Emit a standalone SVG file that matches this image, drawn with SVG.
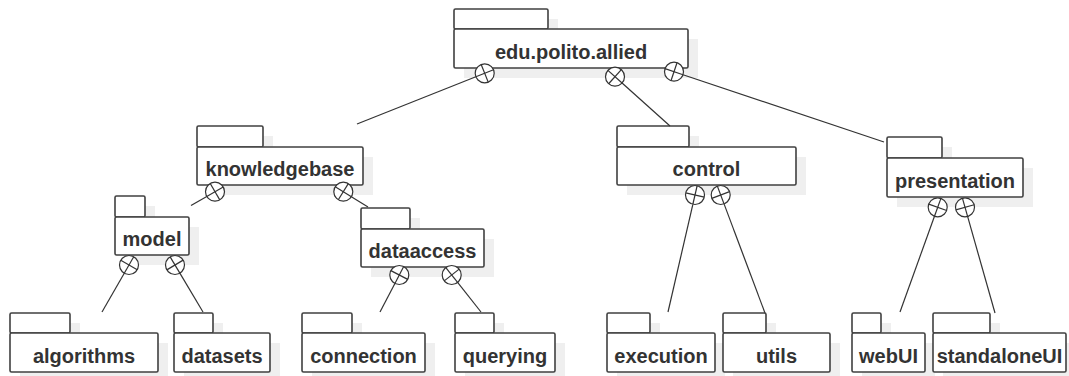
<svg xmlns="http://www.w3.org/2000/svg" width="1069" height="376" viewBox="0 0 1069 376">
<style>
.sh{fill:#efefef;stroke:none}
.tab,.body{fill:#fff;stroke:#404040;stroke-width:1.6}
.lbl{font-family:"Liberation Sans",Arial,sans-serif;font-weight:bold;font-size:20px;fill:#333;text-anchor:middle}
.con line{stroke:#333;stroke-width:1.2}
.con circle{fill:#fff;stroke:#333;stroke-width:1.2}
</style>
<rect width="1069" height="376" fill="#fff"/>
<g id="shadows">
<rect class="sh" x="464" y="19" width="94" height="20"/><rect class="sh" x="464" y="39" width="234" height="39"/>
<rect class="sh" x="207" y="136" width="66" height="21"/><rect class="sh" x="207" y="157" width="166" height="38"/>
<rect class="sh" x="627" y="136" width="72" height="21"/><rect class="sh" x="627" y="157" width="179" height="38"/>
<rect class="sh" x="897" y="147" width="55" height="21"/><rect class="sh" x="897" y="168" width="136" height="39"/>
<rect class="sh" x="125" y="206" width="30" height="21"/><rect class="sh" x="125" y="227" width="74" height="38"/>
<rect class="sh" x="371" y="218" width="49" height="21"/><rect class="sh" x="371" y="239" width="123" height="38"/>
<rect class="sh" x="20" y="323" width="60" height="20"/><rect class="sh" x="20" y="343" width="148" height="39"/>
<rect class="sh" x="184" y="323" width="39" height="20"/><rect class="sh" x="184" y="343" width="96" height="39"/>
<rect class="sh" x="312" y="323" width="50" height="20"/><rect class="sh" x="312" y="343" width="123" height="39"/>
<rect class="sh" x="465" y="323" width="39" height="20"/><rect class="sh" x="465" y="343" width="100" height="39"/>
<rect class="sh" x="617" y="323" width="43" height="20"/><rect class="sh" x="617" y="343" width="108" height="39"/>
<rect class="sh" x="733" y="323" width="43" height="20"/><rect class="sh" x="733" y="343" width="107" height="39"/>
<rect class="sh" x="862" y="323" width="29" height="20"/><rect class="sh" x="862" y="343" width="73" height="39"/>
<rect class="sh" x="943" y="323" width="57" height="20"/><rect class="sh" x="943" y="343" width="133" height="39"/>
</g>
<g id="node-allied"><rect class="tab" x="454" y="9" width="94" height="20" rx="1.5"/><rect class="body" x="454" y="29" width="234" height="39" rx="1.5"/><text class="lbl" x="571" y="59">edu.polito.allied</text></g>
<g id="node-knowledgebase"><rect class="tab" x="197" y="126" width="66" height="21" rx="1.5"/><rect class="body" x="197" y="147" width="166" height="38" rx="1.5"/><text class="lbl" x="280" y="175.5">knowledgebase</text></g>
<g id="node-control"><rect class="tab" x="617" y="126" width="72" height="21" rx="1.5"/><rect class="body" x="617" y="147" width="179" height="38" rx="1.5"/><text class="lbl" x="706.5" y="175.5">control</text></g>
<g id="node-presentation"><rect class="tab" x="887" y="137" width="55" height="21" rx="1.5"/><rect class="body" x="887" y="158" width="136" height="39" rx="1.5"/><text class="lbl" x="955" y="187.5">presentation</text></g>
<g id="node-model"><rect class="tab" x="115" y="196" width="30" height="21" rx="1.5"/><rect class="body" x="115" y="217" width="74" height="38" rx="1.5"/><text class="lbl" x="152" y="245.5">model</text></g>
<g id="node-dataaccess"><rect class="tab" x="361" y="208" width="49" height="21" rx="1.5"/><rect class="body" x="361" y="229" width="123" height="38" rx="1.5"/><text class="lbl" x="422.5" y="257.5">dataaccess</text></g>
<g id="node-algorithms"><rect class="tab" x="10" y="313" width="60" height="20" rx="1.5"/><rect class="body" x="10" y="333" width="148" height="39" rx="1.5"/><text class="lbl" x="84" y="362.5">algorithms</text></g>
<g id="node-datasets"><rect class="tab" x="174" y="313" width="39" height="20" rx="1.5"/><rect class="body" x="174" y="333" width="96" height="39" rx="1.5"/><text class="lbl" x="222" y="362.5">datasets</text></g>
<g id="node-connection"><rect class="tab" x="302" y="313" width="50" height="20" rx="1.5"/><rect class="body" x="302" y="333" width="123" height="39" rx="1.5"/><text class="lbl" x="363.5" y="362.5">connection</text></g>
<g id="node-querying"><rect class="tab" x="455" y="313" width="39" height="20" rx="1.5"/><rect class="body" x="455" y="333" width="100" height="39" rx="1.5"/><text class="lbl" x="505" y="362.5">querying</text></g>
<g id="node-execution"><rect class="tab" x="607" y="313" width="43" height="20" rx="1.5"/><rect class="body" x="607" y="333" width="108" height="39" rx="1.5"/><text class="lbl" x="661" y="362.5">execution</text></g>
<g id="node-utils"><rect class="tab" x="723" y="313" width="43" height="20" rx="1.5"/><rect class="body" x="723" y="333" width="107" height="39" rx="1.5"/><text class="lbl" x="776.5" y="362.5">utils</text></g>
<g id="node-webUI"><rect class="tab" x="852" y="313" width="29" height="20" rx="1.5"/><rect class="body" x="852" y="333" width="73" height="39" rx="1.5"/><text class="lbl" x="888.5" y="362.5">webUI</text></g>
<g id="node-standaloneUI"><rect class="tab" x="933" y="313" width="57" height="20" rx="1.5"/><rect class="body" x="933" y="333" width="133" height="39" rx="1.5"/><text class="lbl" x="999.5" y="362.5">standaloneUI</text></g>
<g id="connectors" class="con">
<line x1="475.87" y1="76.81" x2="357" y2="124"/><circle cx="484.7" cy="73.3" r="9.5"/><line x1="475.87" y1="76.81" x2="493.53" y2="69.79"/><line x1="481.19" y1="64.47" x2="488.21" y2="82.13"/>
<line x1="622.07" y1="83.04" x2="670" y2="126"/><circle cx="615" cy="76.7" r="9.5"/><line x1="607.93" y1="70.36" x2="622.07" y2="83.04"/><line x1="621.34" y1="69.63" x2="608.66" y2="83.77"/>
<line x1="683.01" y1="74.72" x2="884" y2="142"/><circle cx="674" cy="71.7" r="9.5"/><line x1="664.99" y1="68.68" x2="683.01" y2="74.72"/><line x1="677.02" y1="62.69" x2="670.98" y2="80.71"/>
<line x1="206.78" y1="196.46" x2="191" y2="205.5"/><circle cx="215" cy="191.7" r="9.5"/><line x1="206.78" y1="196.46" x2="223.22" y2="186.94"/><line x1="210.24" y1="183.48" x2="219.76" y2="199.92"/>
<line x1="351.38" y1="196.7" x2="368" y2="207"/><circle cx="343.3" cy="191.7" r="9.5"/><line x1="335.22" y1="186.7" x2="351.38" y2="196.7"/><line x1="348.3" y1="183.62" x2="338.3" y2="199.78"/>
<line x1="124.27" y1="273.24" x2="102" y2="312"/><circle cx="129" cy="265" r="9.5"/><line x1="124.27" y1="273.24" x2="133.73" y2="256.76"/><line x1="120.76" y1="260.27" x2="137.24" y2="269.73"/>
<line x1="179.86" y1="273.16" x2="203" y2="312"/><circle cx="175" cy="265" r="9.5"/><line x1="170.14" y1="256.84" x2="179.86" y2="273.16"/><line x1="166.84" y1="269.86" x2="183.16" y2="260.14"/>
<line x1="394.91" y1="283.42" x2="380" y2="312"/><circle cx="399.3" cy="275" r="9.5"/><line x1="394.91" y1="283.42" x2="403.69" y2="266.58"/><line x1="390.88" y1="270.61" x2="407.72" y2="279.39"/>
<line x1="457.6" y1="282.45" x2="481" y2="312"/><circle cx="451.7" cy="275" r="9.5"/><line x1="445.8" y1="267.55" x2="457.6" y2="282.45"/><line x1="444.25" y1="280.9" x2="459.15" y2="269.1"/>
<line x1="692.86" y1="204.26" x2="668" y2="312"/><circle cx="695" cy="195" r="9.5"/><line x1="692.86" y1="204.26" x2="697.14" y2="185.74"/><line x1="685.74" y1="192.86" x2="704.26" y2="197.14"/>
<line x1="724.04" y1="203.89" x2="765" y2="313"/><circle cx="720.7" cy="195" r="9.5"/><line x1="717.36" y1="186.11" x2="724.04" y2="203.89"/><line x1="711.81" y1="198.34" x2="729.59" y2="191.66"/>
<line x1="934.48" y1="216.24" x2="900" y2="312"/><circle cx="937.7" cy="207.3" r="9.5"/><line x1="934.48" y1="216.24" x2="940.92" y2="198.36"/><line x1="928.76" y1="204.08" x2="946.64" y2="210.52"/>
<line x1="967.59" y1="216.44" x2="995" y2="313"/><circle cx="965" cy="207.3" r="9.5"/><line x1="962.41" y1="198.16" x2="967.59" y2="216.44"/><line x1="955.86" y1="209.89" x2="974.14" y2="204.71"/>
</g>
</svg>
